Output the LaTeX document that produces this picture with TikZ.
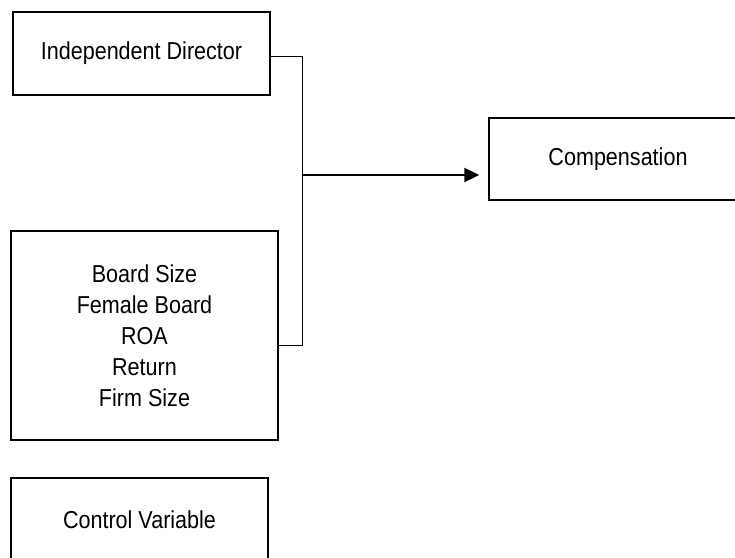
\documentclass[tikz,border=0pt]{standalone}
\usepackage{fontspec}
\setmainfont{Liberation Sans}[FakeStretch=0.88]
\usetikzlibrary{arrows.meta}
\begin{document}
\begin{tikzpicture}[x=1pt,y=-1pt,
  box/.style={draw, line width=1.4pt, inner sep=0pt, align=center,
    font=\fontsize{24.5}{31}\selectfont},
  link/.style={line width=1pt},
  flow/.style={line width=2pt, -{Triangle[length=15pt,width=14pt]}}]
% the page is a cut-out of a wider figure: boxes run off the right and bottom edges
\clip (0,0) rectangle (735,557);
% variable boxes
\node[box, minimum width=257pt, minimum height=83pt] (id) at (141.5,53.5) {Independent Director};
\node[box, minimum width=267pt, minimum height=209pt] (board) at (144.5,335.5)
  {Board Size\\Female Board\\ROA\\Return\\Firm Size};
\node[box, minimum width=257pt, minimum height=84pt] (ctrl) at (139.5,520) {Control Variable};
\node[box, minimum width=258pt, minimum height=82pt] (comp) at (618,159) {Compensation};
% bracket joining the two inputs
\coordinate (jtop) at (302,56);
\coordinate (jbot) at (302,345);
\coordinate (j) at (302,175);
\draw[link] (id.east |- jtop) -- (jtop) -- (jbot) -- (board.east |- jbot);
% arrow to the outcome
\draw[flow] (j) -- ([xshift=-9pt] j -| comp.west);
\end{tikzpicture}
\end{document}
